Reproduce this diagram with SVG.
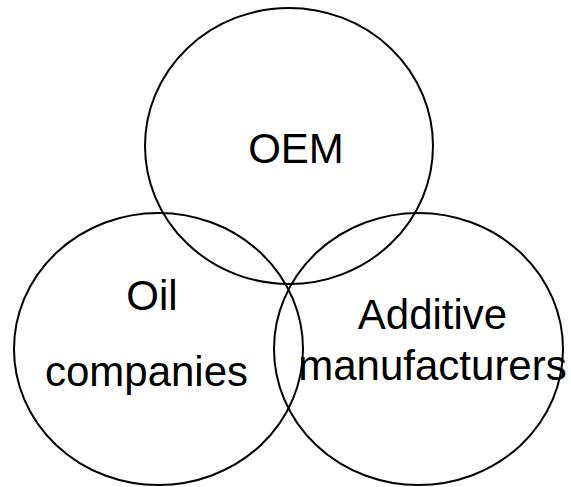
<svg xmlns="http://www.w3.org/2000/svg" width="571" height="487" viewBox="0 0 571 487">
<style>
.c{fill:none;stroke:#000;stroke-width:2}
.t{font-family:"Liberation Sans",Arial,sans-serif;font-size:42px;fill:#000;text-anchor:middle}
</style>
<rect width="571" height="487" fill="#fff"/>
<g id="oem"><ellipse class="c" cx="289" cy="146" rx="144" ry="138"/><text class="t" x="296" y="163">OEM</text></g>
<g id="oil"><ellipse class="c" cx="158.5" cy="349" rx="144.5" ry="136"/><text class="t" x="152" y="310">Oil</text><text class="t" x="146.5" y="386">companies</text></g>
<g id="additive"><ellipse class="c" cx="418.5" cy="349" rx="144.5" ry="136"/><text class="t" x="432.5" y="329">Additive</text><text class="t" x="432.5" y="380">manufacturers</text></g>
<g id="connectors"/>
</svg>
